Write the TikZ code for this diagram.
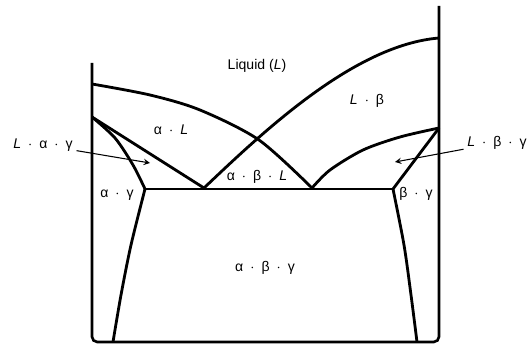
\documentclass[tikz,border=0pt]{standalone}
\usepackage{fontspec}
\setmainfont{Liberation Sans}
\usetikzlibrary{arrows}
\tikzstyle{axis} = [line width=1.5pt, rounded corners=3pt]
\tikzstyle{phase} = [line width=1.6pt, line join=round]
\tikzstyle{region} = [font=\fontsize{8}{9}\selectfont, inner sep=2pt]
\tikzstyle{arrow} = [line width=0.6pt,->,>=stealth]
\newcommand{\dt}{\enspace$\cdot$\enspace}

\begin{document}
\begin{tikzpicture}[x=0.02cm,y=-0.02cm]
\useasboundingbox (0,0) rectangle (530,347);

\draw[axis] (92,63) -- (92,342) -- (439,342) -- (439,6);

\draw[phase] plot[smooth] coordinates {(92,84) (150,95) (200,110) (259,140) (312,188)};
\draw[phase] (204,188) .. controls (265,130) and (355,45) .. (439,38);
\draw[phase] (92,117) -- (204,188);
\draw[phase] plot[smooth] coordinates {(92,117) (115,138) (133,165) (145,189)};
\draw[phase] plot[smooth] coordinates {(439,128) (400,137) (363,150) (330,170) (312,188)};
\draw[phase] (439,128) -- (393,189);
\draw[phase] (145,189) -- (393,189);
\draw[phase] plot[smooth] coordinates {(145,189) (131,245) (121,295) (113,342)};
\draw[phase] plot[smooth] coordinates {(393,189) (404,245) (411,295) (417,342)};

\node (liq) [region] at (257,66) {Liquid (\textit{L})};
\node (al) [region] at (171,130) {α\dt\textit{L}};
\node (lb) [region] at (367,101) {\textit{L}\dt β};
\node (lag) [region] at (43,145) {\textit{L}\dt α\dt γ};
\node (ag) [region] at (117,195) {α\dt γ};
\node (abl) [region] at (257,177) {α\dt β\dt\textit{L}};
\node (bg) [region] at (416,194) {β\dt γ};
\node (lbg) [region] at (497,143) {\textit{L}\dt β\dt γ};
\node (abg) [region] at (265,268) {α\dt β\dt γ};

\coordinate (tipl) at (150,163);
\coordinate (tipr) at (395,162);
\draw [arrow] (lag) -- (tipl);
\draw [arrow] (lbg) -- (tipr);
\end{tikzpicture}
\end{document}
